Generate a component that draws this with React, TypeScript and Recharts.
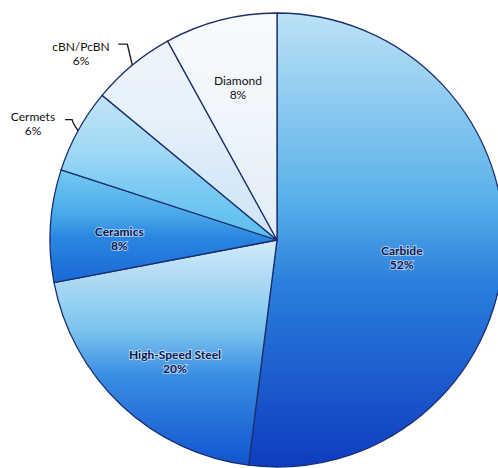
import { PieChart, Pie, Cell } from 'recharts';

const materials = ['Carbide', 'High-Speed Steel', 'Ceramics', 'Cermets', 'cBN/PcBN', 'Diamond'];
const shares = [52, 20, 8, 6, 6, 8];
const shareLabels = ['52%', '20%', '8%', '6%', '6%', '8%'];

const data = materials.map((name, i) => ({ name, value: shares[i], label: shareLabels[i] }));

// gradient stops per slice, top to bottom
const gradients = [
  ['#bce2f6', '#5cb2ea', '#2a7edc', '#0e3cc0'],
  ['#d2ebf9', '#7cc4ee', '#3a8ee2', '#1254d0'],
  ['#74caf2', '#48a8ea', '#2a86e0', '#1a68d6'],
  ['#c0e4f8', '#a0d8f5', '#80ccf3', '#58bcef'],
  ['#eef5fb', '#e6f1fa', '#dbebf8', '#cde4f6'],
  ['#f8fafd', '#f2f7fc', '#ebf3fa', '#e2edf8'],
];

// label placement: inside labels use radius + nudge, outside ones get a leader line
const labelLayout = [
  { inside: true, r: 125, dy: 10 },
  { inside: true, r: 149, dy: 13 },
  { inside: true, r: 158, dy: 9 },
  { inside: false, ex: -6, ey: -11, hx: -7, tx: 33, ty: 121 },
  { inside: false, ex: -5, ey: -21, hx: -9, tx: 81, ty: 51 },
  { inside: true, r: 157, dy: 0 },
];

const RAD = Math.PI / 180;
const font = 'Lato, "DejaVu Sans", sans-serif';

function renderLabel(props: any) {
  const { cx, cy, midAngle, outerRadius, index } = props;
  const lay: any = labelLayout[index];
  const name = materials[index];
  const pct = shareLabels[index];
  if (lay.inside) {
    const x = cx + lay.r * Math.cos(-midAngle * RAD);
    const y = cy + lay.r * Math.sin(-midAngle * RAD) + lay.dy;
    const bold = index < 3;
    return (
      <text
        x={x}
        y={y}
        textAnchor="middle"
        fontFamily={font}
        fontSize={12}
        fontWeight={bold ? 700 : 400}
        fill={bold ? '#0b1652' : '#111'}
        stroke={bold ? 'rgba(255,255,255,0.55)' : 'none'}
        strokeWidth={bold ? 2 : 0}
        paintOrder="stroke"
      >
        <tspan x={x} dy={-3}>{name}</tspan>
        <tspan x={x} dy={14}>{pct}</tspan>
      </text>
    );
  }
  const ex = cx + outerRadius * Math.cos(-midAngle * RAD);
  const ey = cy + outerRadius * Math.sin(-midAngle * RAD);
  const bx = ex + lay.ex;
  const by = ey + lay.ey;
  const hx = bx + lay.hx;
  return (
    <g>
      <path
        d={`M${ex},${ey} Q${bx + 1},${by + 4} ${bx},${by} L${hx},${by}`}
        fill="none"
        stroke="#1a1a1a"
        strokeWidth={1.4}
      />
      <text x={lay.tx} y={lay.ty} textAnchor="middle" fontFamily={font} fontSize={12} fill="#111">
        <tspan x={lay.tx} dy={0}>{name}</tspan>
        <tspan x={lay.tx} dy={14}>{pct}</tspan>
      </text>
    </g>
  );
}

export default function App() {
  return (
    <div style={{ position: 'absolute', left: 0, top: 0, width: 498, height: 468, background: '#fff' }}>
      <PieChart width={498} height={468} margin={{ top: 0, right: 0, bottom: 0, left: 0 }}>
        <defs>
          {gradients.map((g, i) => (
            <linearGradient key={i} id={`slice${i}`} x1="0" y1="0" x2="0" y2="1">
              <stop offset="0%" stopColor={g[0]} />
              <stop offset="40%" stopColor={g[1]} />
              <stop offset="60%" stopColor={g[2]} />
              <stop offset="100%" stopColor={g[3]} />
            </linearGradient>
          ))}
        </defs>
        <Pie
          data={data}
          dataKey="value"
          nameKey="name"
          cx={277}
          cy={240}
          outerRadius={227}
          startAngle={90}
          endAngle={-270}
          stroke="#1b2f6e"
          strokeWidth={1.3}
          label={renderLabel}
          labelLine={false}
          isAnimationActive={false}
        >
          {data.map((d, i) => (
            <Cell key={d.name} fill={`url(#slice${i})`} />
          ))}
        </Pie>
      </PieChart>
    </div>
  );
}
